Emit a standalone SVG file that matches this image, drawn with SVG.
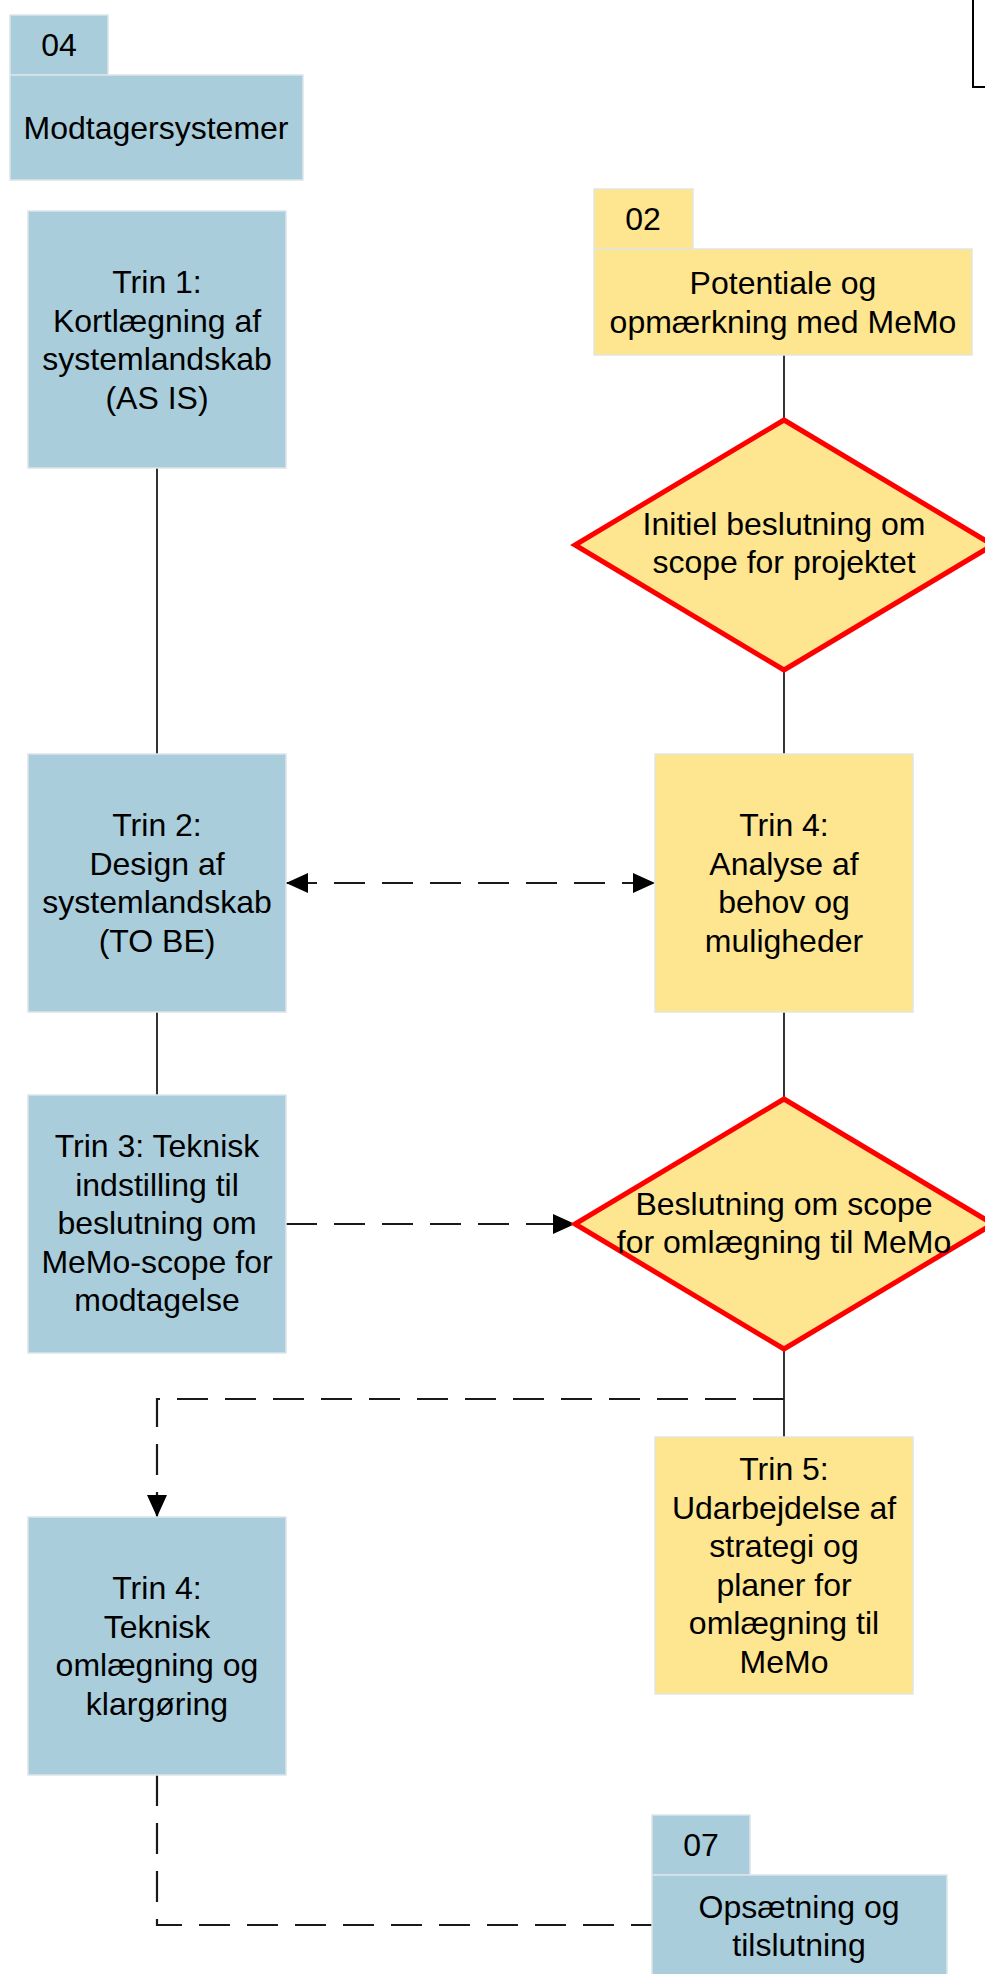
<svg xmlns="http://www.w3.org/2000/svg" width="985" height="1974" viewBox="0 0 985 1974">
<style>
.blue{fill:#A9CDDB;stroke:#DDE4EA;stroke-width:1.5}
.yel{fill:#FEE58F;stroke:#E4E4E0;stroke-width:1.5}
.dia{fill:#FEE58F;stroke:#FF0000;stroke-width:5;stroke-linejoin:miter}
text{font-family:"Liberation Sans",Arial,sans-serif;font-size:32px;fill:#000;text-anchor:middle}
.solid{stroke:#000;stroke-width:1.6;fill:none}
.dash{stroke:#1a1a1a;stroke-width:2.2;fill:none;stroke-dasharray:31 17}
</style>
<defs>
<marker id="ah" markerUnits="userSpaceOnUse" markerWidth="24" markerHeight="22" refX="22" refY="10" orient="auto-start-reverse">
<path d="M0,0 L22,10 L0,20 Z" fill="#000"/>
</marker>
</defs>
<rect width="985" height="1974" fill="#fff"/>

<g id="frame-topright">
<path d="M973,-2 V87 H990" fill="none" stroke="#000" stroke-width="2"/>
</g>

<g id="connectors">
<line class="solid" x1="157" y1="468" x2="157" y2="754"/>
<line class="solid" x1="157" y1="1012" x2="157" y2="1095"/>
<line class="solid" x1="784" y1="355" x2="784" y2="420"/>
<line class="solid" x1="784" y1="670" x2="784" y2="754"/>
<line class="solid" x1="784" y1="1012" x2="784" y2="1099"/>
<line class="solid" x1="784" y1="1349" x2="784" y2="1437"/>
<line class="dash" x1="286" y1="883" x2="655" y2="883" marker-start="url(#ah)" marker-end="url(#ah)"/>
<line class="dash" x1="286" y1="1224" x2="575" y2="1224" marker-end="url(#ah)"/>
<path class="dash" d="M784,1399 H157 V1517" marker-end="url(#ah)"/>
<path class="dash" d="M157,1775 V1925 H652"/>
</g>

<g id="node-04">
<rect class="blue" x="10" y="15" width="98" height="60"/>
<text x="59" y="56">04</text>
<rect class="blue" x="10" y="75" width="293" height="105"/>
<text x="156" y="139">Modtagersystemer</text>
</g>

<g id="node-02">
<rect class="yel" x="594" y="189" width="99" height="60"/>
<text x="643" y="230">02</text>
<rect class="yel" x="594" y="249" width="378" height="106"/>
<text x="783" y="294">Potentiale og</text>
<text x="783" y="333">opmærkning med MeMo</text>
</g>

<g id="node-trin1">
<rect class="blue" x="28" y="211" width="258" height="257"/>
<text x="157" y="293">Trin 1:</text>
<text x="157" y="331.5">Kortlægning af</text>
<text x="157" y="370">systemlandskab</text>
<text x="157" y="408.5">(AS IS)</text>
</g>

<g id="node-decision1">
<polygon class="dia" points="784,420 993,545 784,670 575,545"/>
<text x="784" y="535">Initiel beslutning om</text>
<text x="784" y="573">scope for projektet</text>
</g>

<g id="node-trin2">
<rect class="blue" x="28" y="754" width="258" height="258"/>
<text x="157" y="836">Trin 2:</text>
<text x="157" y="874.5">Design af</text>
<text x="157" y="913">systemlandskab</text>
<text x="157" y="951.5">(TO BE)</text>
</g>

<g id="node-trin4-analyse">
<rect class="yel" x="655" y="754" width="258" height="258"/>
<text x="784" y="836">Trin 4:</text>
<text x="784" y="874.5">Analyse af</text>
<text x="784" y="913">behov og</text>
<text x="784" y="951.5">muligheder</text>
</g>

<g id="node-trin3">
<rect class="blue" x="28" y="1095" width="258" height="258"/>
<text x="157" y="1157">Trin 3: Teknisk</text>
<text x="157" y="1195.5">indstilling til</text>
<text x="157" y="1234">beslutning om</text>
<text x="157" y="1272.5">MeMo-scope for</text>
<text x="157" y="1311">modtagelse</text>
</g>

<g id="node-decision2">
<polygon class="dia" points="784,1099 993,1224 784,1349 575,1224"/>
<text x="784" y="1215">Beslutning om scope</text>
<text x="784" y="1253">for omlægning til MeMo</text>
</g>

<g id="node-trin5">
<rect class="yel" x="655" y="1437" width="258" height="257"/>
<text x="784" y="1480">Trin 5:</text>
<text x="784" y="1518.5">Udarbejdelse af</text>
<text x="784" y="1557">strategi og</text>
<text x="784" y="1595.5">planer for</text>
<text x="784" y="1634">omlægning til</text>
<text x="784" y="1672.5">MeMo</text>
</g>

<g id="node-trin4-teknisk">
<rect class="blue" x="28" y="1517" width="258" height="258"/>
<text x="157" y="1599">Trin 4:</text>
<text x="157" y="1637.5">Teknisk</text>
<text x="157" y="1676">omlægning og</text>
<text x="157" y="1714.5">klargøring</text>
</g>

<g id="node-07">
<rect class="blue" x="652" y="1815" width="98" height="60"/>
<text x="701" y="1856">07</text>
<rect class="blue" x="652" y="1875" width="295" height="110"/>
<text x="799" y="1918">Opsætning og</text>
<text x="799" y="1956">tilslutning</text>
</g>
</svg>
